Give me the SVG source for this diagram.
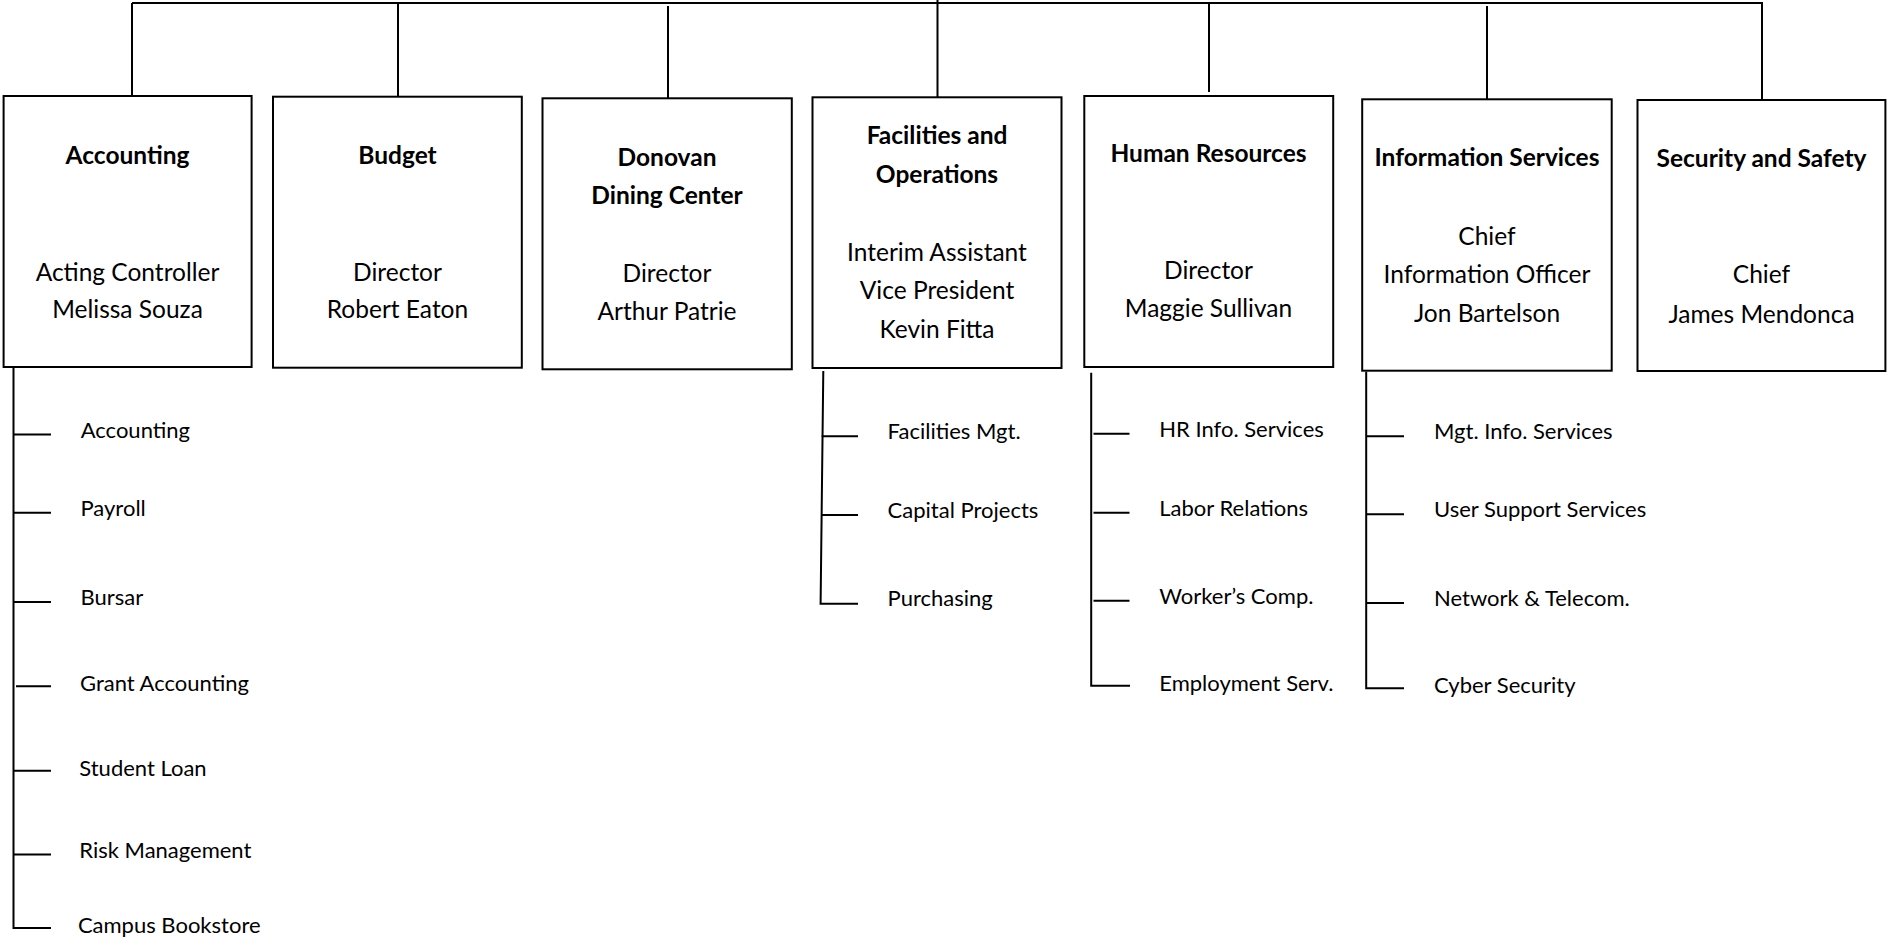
<svg xmlns="http://www.w3.org/2000/svg" width="1887" height="940" viewBox="0 0 1887 940">
<style>
.box{fill:#fff;stroke:#000;stroke-width:2}
.ln{fill:none;stroke:#000;stroke-width:2}
text{font-family:Lato,"Liberation Sans",sans-serif;fill:#000}
.t{font-size:24.5px;font-weight:bold;text-anchor:middle}
.b{font-size:24.5px;text-anchor:middle}
.s{font-size:22px}
</style>
<rect width="1887" height="940" fill="#fff"/>
<g id="connectors">
<path class="ln" d="M132,3 H1762"/>
<path class="ln" d="M132,3 V96 M398,3 V97 M668,6 V98 M937.5,0 V97 M1209,4 V92 M1487,6 V99 M1762,2 V100"/>
<path class="ln" d="M13.5,367 V928 H51 M13.5,434.4 H51 M13.5,512.8 H51 M13.5,602 H51 M16,686.3 H51 M13.5,770.7 H51 M13.5,854.6 H51"/>
<path class="ln" d="M823.3,371 L820.6,603.7 H858 M821.4,436.3 H858 M822,515 H858"/>
<path class="ln" d="M1091.2,372.7 V685.7 H1130 M1093.5,433.7 H1129.5 M1093.5,512.7 H1129.5 M1093.5,600.7 H1129.5"/>
<path class="ln" d="M1366.2,371.7 V688.3 H1404 M1366.2,436.3 H1404 M1366.2,514.3 H1404 M1366.2,603 H1404"/>
</g>
<g id="accounting">
<rect class="box" x="3.6" y="96" width="248" height="271"/>
<text class="t" x="127.5" y="163.5">Accounting</text>
<text class="b" x="127.5" y="280.7">Acting Controller</text>
<text class="b" x="127.5" y="318.3">Melissa Souza</text>
</g>
<g id="budget">
<rect class="box" x="273" y="96.7" width="248.8" height="271"/>
<text class="t" x="397.5" y="164">Budget</text>
<text class="b" x="397.5" y="280.7">Director</text>
<text class="b" x="397.5" y="318.3">Robert Eaton</text>
</g>
<g id="donovan">
<rect class="box" x="542.5" y="98.3" width="249.3" height="271"/>
<text class="t" x="667" y="165.7">Donovan</text>
<text class="t" x="667" y="204.3">Dining Center</text>
<text class="b" x="667" y="281.7">Director</text>
<text class="b" x="667" y="320">Arthur Patrie</text>
</g>
<g id="facilities">
<rect class="box" x="812.5" y="97.3" width="249" height="270.7"/>
<text class="t" x="937" y="144.3">Facilities and</text>
<text class="t" x="937" y="183.3">Operations</text>
<text class="b" x="937" y="261">Interim Assistant</text>
<text class="b" x="937" y="299.3">Vice President</text>
<text class="b" x="937" y="338.3">Kevin Fitta</text>
</g>
<g id="human-resources">
<rect class="box" x="1084.3" y="96" width="248.9" height="271"/>
<text class="t" x="1208.5" y="162.3">Human Resources</text>
<text class="b" x="1208.5" y="279.3">Director</text>
<text class="b" x="1208.5" y="316.7">Maggie Sullivan</text>
</g>
<g id="information-services">
<rect class="box" x="1362.2" y="99.3" width="249.5" height="271.4"/>
<text class="t" x="1487" y="165.7">Information Services</text>
<text class="b" x="1487" y="245">Chief</text>
<text class="b" x="1487" y="283.3">Information Officer</text>
<text class="b" x="1487" y="321.7">Jon Bartelson</text>
</g>
<g id="security-safety">
<rect class="box" x="1637.5" y="100" width="247.9" height="271"/>
<text class="t" x="1761.5" y="167.3">Security and Safety</text>
<text class="b" x="1761.5" y="283.3">Chief</text>
<text class="b" x="1761.5" y="322.7">James Mendonca</text>
</g>
<g id="accounting-units">
<text class="s" x="80.7" y="438.4">Accounting</text>
<text class="s" x="80.5" y="516">Payroll</text>
<text class="s" x="80.5" y="605">Bursar</text>
<text class="s" x="80" y="691">Grant Accounting</text>
<text class="s" x="79.3" y="776">Student Loan</text>
<text class="s" x="79.3" y="857.6">Risk Management</text>
<text class="s" x="77.9" y="933">Campus Bookstore</text>
</g>
<g id="facilities-units">
<text class="s" x="887.6" y="439.3">Facilities Mgt.</text>
<text class="s" x="887.6" y="518.3">Capital Projects</text>
<text class="s" x="887.6" y="606">Purchasing</text>
</g>
<g id="hr-units">
<text class="s" x="1159.3" y="436.7">HR Info. Services</text>
<text class="s" x="1159.3" y="515.7">Labor Relations</text>
<text class="s" x="1159.3" y="603.7">Worker’s Comp.</text>
<text class="s" x="1159.3" y="691">Employment Serv.</text>
</g>
<g id="is-units">
<text class="s" x="1434" y="439.3">Mgt. Info. Services</text>
<text class="s" x="1434" y="517.3">User Support Services</text>
<text class="s" x="1434" y="605.7">Network &amp; Telecom.</text>
<text class="s" x="1434" y="692.7">Cyber Security</text>
</g>
</svg>
